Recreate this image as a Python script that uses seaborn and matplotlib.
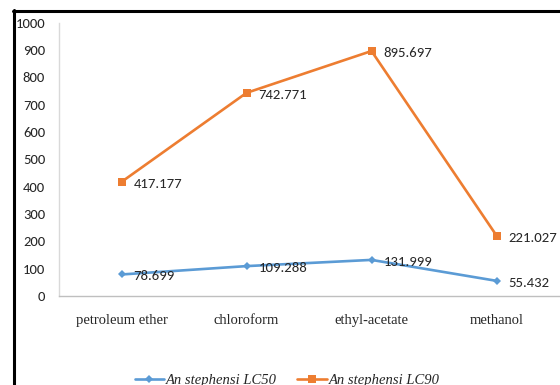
import pandas as pd
import matplotlib
matplotlib.use('Agg')
import matplotlib.pyplot as plt
from matplotlib.lines import Line2D
from matplotlib import font_manager
import seaborn as sns

# data
solvents = ['petroleum ether', 'chloroform', 'ethyl-acetate', 'methanol']
lc50 = [78.699, 109.288, 131.999, 55.432]
lc90 = [417.177, 742.771, 895.697, 221.027]
series_names = ['An stephensi LC50', 'An stephensi LC90']
y_ticks = [0, 100, 200, 300, 400, 500, 600, 700, 800, 900, 1000]

sns.set_style('white')
installed = {f.name for f in font_manager.fontManager.ttflist}
num_font = next(f for f in ['Carlito', 'Liberation Sans Narrow', 'DejaVu Sans'] if f in installed)
plt.rcParams['font.family'] = [num_font, 'DejaVu Sans']

colors = {'An stephensi LC50': '#5B9BD5', 'An stephensi LC90': '#ED7D31'}

df = pd.DataFrame({
    'pos': list(range(len(solvents))) * 2,
    'value': lc50 + lc90,
    'series': [series_names[0]] * len(lc50) + [series_names[1]] * len(lc90),
})

fig = plt.figure(figsize=(5.6, 3.85), dpi=100)
ax = fig.add_axes([59 / 560, 1 - 296 / 385, 500 / 560, (296 - 22.5) / 385])

sns.lineplot(data=df, x='pos', y='value', hue='series', style='series',
             markers={series_names[0]: 'D', series_names[1]: 's'},
             dashes=False, palette=colors, linewidth=1.9,
             markeredgewidth=0, ax=ax)
for line in ax.lines:
    if line.get_marker() == 'D':
        line.set_markersize(4.3)
    else:
        line.set_markersize(5.6)

# data labels
for vals in (lc50, lc90):
    for i, v in enumerate(vals):
        ax.annotate(f'{v:.3f}', (i, v), xytext=(12, -2), textcoords='offset pixels',
                    ha='left', va='center', fontsize=10.6, color='#262626')

ax.set_xlim(-0.5, len(solvents) - 0.5)
ax.set_ylim(0, 1000)
ax.set_yticks(y_ticks)
ax.set_yticklabels([str(t) for t in y_ticks], fontsize=10.5, color='#262626')
ax.set_xticks(range(len(solvents)))
ax.set_xticklabels(solvents, family='Liberation Serif', fontsize=10.5, color='#262626')
ax.tick_params(axis='y', length=0, pad=10)
ax.tick_params(axis='x', length=0, pad=13)
ax.set_xlabel('')
ax.set_ylabel('')
for side in ['top', 'right']:
    ax.spines[side].set_visible(False)
ax.spines['left'].set_color('#D9D9D9')
ax.spines['left'].set_linewidth(1.0)
ax.spines['bottom'].set_color('#BFBFBF')
ax.spines['bottom'].set_linewidth(1.0)

handles, labels = ax.get_legend_handles_labels()
ax.get_legend().remove()
leg_font = font_manager.FontProperties(family='Liberation Serif', style='italic', size=10.5)
fig.legend(handles, labels, loc='center', bbox_to_anchor=(0.513, 0.011), ncol=2,
           frameon=False, prop=leg_font, handlelength=2.0, handletextpad=0.15,
           columnspacing=1.4)

# black frame on the left and top
fig.add_artist(Line2D([14 / 560, 14 / 560], [0, 1 - 10 / 385],
                      transform=fig.transFigure, color='black', lw=2.2))
fig.add_artist(Line2D([13 / 560, 1], [1 - 11 / 385, 1 - 11 / 385],
                      transform=fig.transFigure, color='black', lw=2.2))

fig.savefig('out.png', dpi=100)
